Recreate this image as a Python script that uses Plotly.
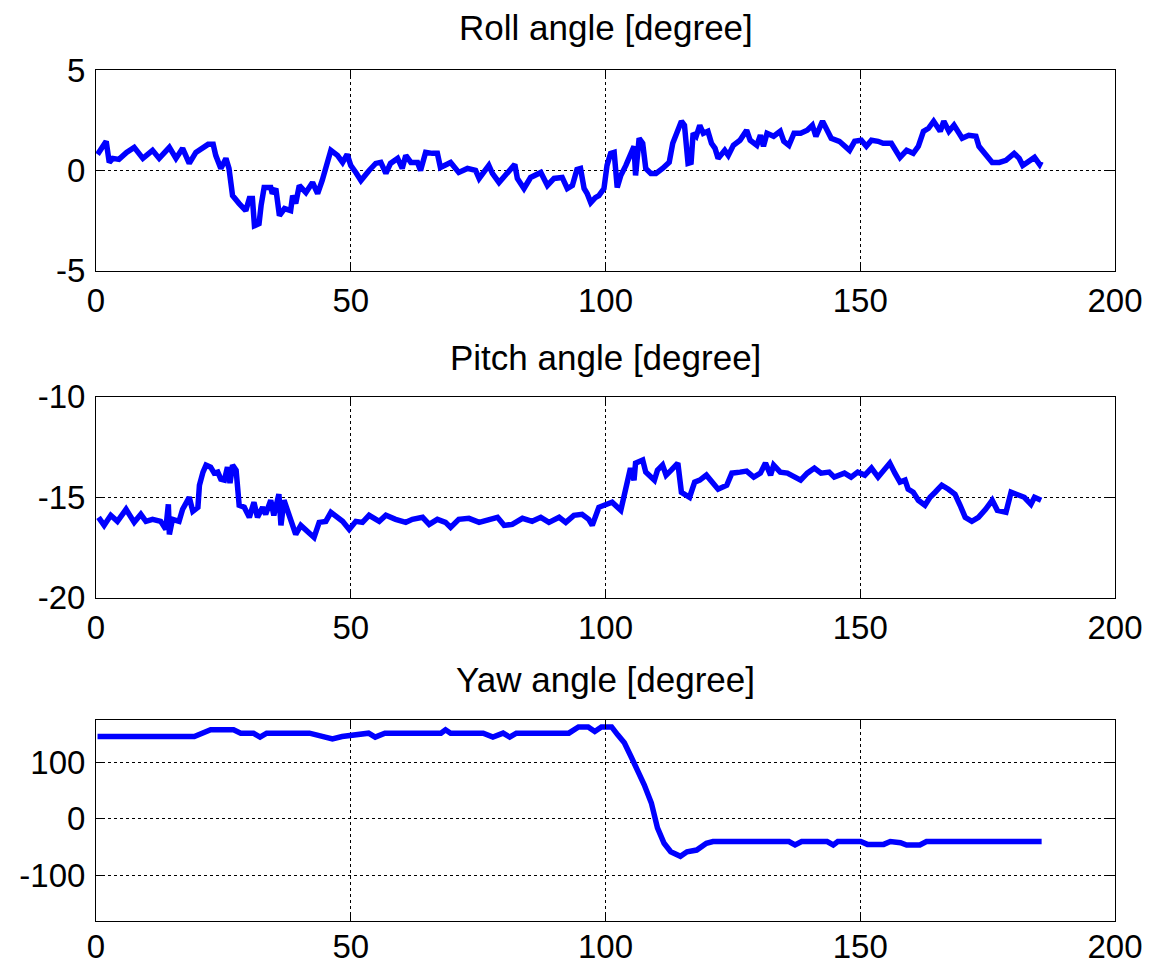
import plotly.graph_objects as go

# ---------------- data ----------------
roll_t = [0.3,1.5,2.0,2.6,3.3,4.5,6.0,7.5,9.2,11.1,12.4,14.4,15.7,17.0,18.3,19.6,21.0,22.0,23.0,23.5,24.5,25.5,26.1,26.8,28.1,29.4,30.1,30.7,31.1,32.0,32.4,33.0,34.3,34.6,35.3,36.0,37.0,38.2,38.6,39.2,39.9,41.2,42.5,43.5,44.4,45.1,46.1,47.4,48.4,49.3,50.0,51.0,52.0,53.6,54.9,55.9,56.9,57.8,59.2,60.1,60.8,61.8,63.1,63.7,64.7,66.0,67.0,67.6,69.6,71.2,72.9,74.5,75.2,77.1,77.8,79.1,80.7,82.2,82.7,84.0,85.3,87.3,88.6,89.9,91.5,92.5,93.5,94.4,95.1,95.8,96.4,97.1,98.0,98.7,99.7,100.3,101.0,101.7,102.3,103.0,104.0,104.6,105.6,105.9,106.6,107.3,107.9,108.9,109.9,111.2,112.5,113.2,114.2,114.9,115.5,115.9,116.2,116.8,117.2,117.8,118.5,119.2,120.1,120.8,121.5,122.1,123.4,124.1,125.1,126.4,127.7,128.4,129.7,130.4,131.0,131.7,133.0,134.3,135.0,136.0,137.0,138.3,139.6,140.6,141.3,142.6,143.3,144.3,145.9,147.9,148.9,150.2,151.2,152.2,153.5,154.5,156.1,157.8,159.1,160.4,161.4,162.4,163.4,164.4,165.7,166.4,167.4,168.4,169.4,170.0,171.3,172.7,173.3,174.6,175.9,177.3,178.6,180.2,181.2,181.9,183.2,184.2,185.2,185.5]
roll_deg = [0.8,1.3,1.45,0.4,0.6,0.55,0.9,1.15,0.6,1.0,0.6,1.15,0.6,1.1,0.35,0.9,1.15,1.3,1.3,0.75,0.1,0.6,0.1,-1.25,-1.65,-2.0,-1.4,-1.4,-2.75,-2.65,-1.75,-0.85,-0.85,-1.15,-0.9,-2.25,-1.9,-2.0,-1.25,-1.65,-0.75,-1.1,-0.6,-1.15,-0.5,0.1,1.0,0.75,0.4,0.8,0.25,-0.1,-0.5,0.0,0.35,0.4,-0.15,0.35,0.6,0.1,0.75,0.4,0.4,0.0,0.9,0.85,0.85,0.15,0.4,-0.1,0.1,0.0,-0.4,0.25,-0.15,-0.6,-0.1,0.3,-0.4,-0.9,-0.35,-0.1,-0.75,-0.4,-0.35,-0.9,-0.75,0.05,0.1,-0.9,-1.15,-1.6,-1.35,-1.25,-0.9,0.25,0.85,0.9,-0.85,-0.25,0.25,0.6,1.2,-0.25,1.6,1.35,0.1,-0.15,-0.15,0.1,0.4,1.35,1.95,2.45,2.25,1.1,0.35,0.4,1.85,1.7,2.25,1.85,1.95,1.35,1.1,0.6,1.0,0.75,1.25,1.5,2.0,1.5,1.25,1.75,1.2,1.85,1.7,1.95,1.45,1.25,1.85,1.85,2.0,2.25,1.7,2.45,2.1,1.6,1.45,1.0,1.45,1.5,1.2,1.5,1.45,1.35,1.35,0.65,1.0,0.85,1.2,1.95,2.1,2.45,1.95,2.45,1.95,2.25,1.85,1.6,1.75,1.7,1.2,0.75,0.4,0.4,0.5,0.85,0.6,0.25,0.5,0.65,0.3,0.45]

pitch_t = [0.5,1.6,2.9,4.2,5.9,7.5,8.8,9.8,11.1,12.7,13.7,14.2,14.4,15.0,16.3,17.0,18.3,19.0,20.0,20.3,21.0,21.6,22.5,23.2,23.9,24.5,25.2,25.8,26.3,26.8,27.5,28.1,29.1,30.1,31.0,31.7,32.7,33.3,34.3,34.9,35.9,36.3,36.9,37.9,38.6,39.2,40.2,41.5,42.8,43.8,45.1,46.1,47.4,48.4,49.7,51.0,52.3,53.6,55.6,56.9,58.8,60.8,62.1,64.1,65.4,67.0,68.6,69.6,71.2,73.2,75.2,77.1,78.8,80.1,81.7,83.7,85.6,87.3,88.9,90.9,92.2,93.8,95.4,96.7,97.4,98.7,100.0,101.3,103.0,103.6,104.3,104.9,105.6,105.9,107.3,107.9,109.6,110.2,111.2,111.9,112.9,114.2,114.9,116.5,117.5,118.5,119.8,120.8,122.1,123.8,124.8,126.4,127.7,129.1,130.4,131.4,132.4,133.0,134.3,135.7,137.0,138.3,139.6,141.0,142.3,143.9,144.9,146.9,148.2,149.5,150.9,152.2,153.5,154.8,155.8,156.8,157.8,158.8,159.4,160.4,161.4,162.7,163.7,164.7,166.0,167.3,168.6,169.6,170.6,171.9,173.2,174.6,175.9,176.9,178.6,179.6,180.9,182.2,183.5,184.2,185.5]
pitch_deg = [-16.0,-16.4,-15.9,-16.2,-15.6,-16.25,-15.85,-16.2,-16.1,-16.2,-16.6,-15.35,-16.85,-16.1,-16.2,-15.6,-15.0,-15.7,-15.5,-14.4,-13.75,-13.4,-13.5,-13.8,-13.75,-14.1,-14.15,-13.5,-14.3,-13.4,-13.65,-15.4,-15.5,-16.0,-15.25,-16.0,-15.5,-15.85,-15.15,-15.9,-14.85,-16.4,-15.15,-15.9,-16.25,-16.85,-16.4,-16.7,-17.0,-16.25,-16.2,-15.75,-16.0,-16.2,-16.6,-16.2,-16.25,-15.9,-16.2,-15.9,-16.1,-16.25,-16.1,-16.0,-16.35,-16.1,-16.25,-16.5,-16.1,-16.05,-16.25,-16.1,-16.0,-16.4,-16.35,-16.05,-16.2,-16.0,-16.25,-16.0,-16.25,-15.9,-15.85,-16.1,-16.4,-15.5,-15.4,-15.25,-15.65,-14.9,-14.15,-13.55,-14.15,-13.3,-13.15,-13.75,-14.15,-13.65,-13.4,-13.9,-13.65,-13.3,-14.75,-15.0,-14.25,-14.15,-13.9,-14.25,-14.6,-14.4,-13.8,-13.75,-13.7,-14.0,-13.8,-13.3,-13.9,-13.4,-13.75,-13.8,-14.0,-14.15,-13.8,-13.55,-13.8,-13.75,-14.0,-13.8,-14.0,-13.75,-13.9,-13.55,-14.0,-13.65,-13.3,-13.8,-14.25,-14.15,-14.6,-14.75,-15.15,-15.4,-15.0,-14.75,-14.4,-14.6,-14.85,-15.4,-16.0,-16.2,-16.0,-15.6,-15.15,-15.65,-15.75,-14.75,-14.85,-15.0,-15.35,-15.0,-15.15]

yaw_t = [0.3,19.3,22.5,27.0,28.4,30.9,32.2,33.5,41.9,43.8,46.4,48.3,50.9,53.5,54.8,56.7,67.7,68.6,69.6,76.0,77.9,79.9,81.2,82.5,92.8,94.7,96.6,97.9,99.2,101.2,102.4,103.7,105.0,106.3,107.6,109.0,110.2,111.5,112.8,114.7,116.0,117.9,119.8,121.1,136.0,137.2,138.5,143.5,144.7,145.6,150.1,151.4,154.6,155.9,157.9,159.1,161.7,163.0,185.6]
yaw_deg = [145,145,157,157,151,151,144,151,151,146,141,145,148,151,144,151,151,157,151,151,144,151,144,151,151,162,162,154,162,162,148,134,110,86,60,28,-16,-43,-58,-66,-58,-55,-43,-40,-40,-46,-40,-40,-46,-40,-40,-45,-45,-40,-42,-46,-46,-40,-40]

titles = ["Roll angle [degree]", "Pitch angle [degree]", "Yaw angle [degree]"]
x_ticks = [0, 50, 100, 150, 200]
roll_ticks = [-5, 0, 5]
pitch_ticks = [-20, -15, -10]
yaw_ticks = [-100, 0, 100]

# ---------------- figure ----------------
OFF = 8                      # page body margin of the html page
W, H = 1154 - OFF, 969 - OFF
FONT = "Liberation Sans, Arial, sans-serif"
FS = 33
FS_T = 35
BLUE = "#0000FF"

ML, MR = 95.5 - OFF, W - (1115 - OFF)
MT, MB = 69.5 - OFF, H - (921 - OFF)
PH = H - MT - MB

# page-pixel boxes (top, bottom) of each panel
boxes = [(69.5, 270.5), (396.5, 597.5), (720.0, 921.0)]
title_y = [26.5, 357.0, 679.0]
x_standoff = [1, 1, -4]


def frac(py):
    return 1 - (py - OFF - MT) / PH


doms = [[frac(b), frac(t)] for t, b in boxes]

fig = go.Figure()
series = [(roll_t, roll_deg), (pitch_t, pitch_deg), (yaw_t, yaw_deg)]
for i, (tx, ty) in enumerate(series):
    sfx = "" if i == 0 else str(i + 1)
    fig.add_trace(go.Scatter(x=tx, y=ty, mode="lines", xaxis="x" + sfx, yaxis="y" + sfx,
                             line=dict(color=BLUE, width=5.5), showlegend=False,
                             hoverinfo="skip"))

yranges = [[-5, 5], [-20, -10], [-180, 174]]
yticks = [roll_ticks, pitch_ticks, yaw_ticks]

common = dict(showline=True, linecolor="black", linewidth=1, mirror="ticks",
              ticks="inside", ticklen=9, tickcolor="black", tickwidth=1,
              showgrid=True, gridcolor="black", gridwidth=1, griddash="dot",
              zeroline=False, automargin=False,
              tickfont=dict(family=FONT, size=FS, color="black"))

layout = dict(width=W, height=H, paper_bgcolor="white", plot_bgcolor="white",
              margin=dict(l=ML, r=MR, t=MT, b=MB, pad=0), showlegend=False,
              font=dict(family=FONT, size=FS, color="black"))
for i in range(3):
    sfx = "" if i == 0 else str(i + 1)
    layout["xaxis" + sfx] = dict(common, domain=[0, 1], anchor="y" + sfx, range=[0, 200],
                                 tickvals=x_ticks, ticktext=[str(v) for v in x_ticks],
                                 ticklabelstandoff=x_standoff[i])
    layout["yaxis" + sfx] = dict(common, domain=doms[i], anchor="x" + sfx, range=yranges[i],
                                 tickvals=yticks[i], ticktext=[str(v) for v in yticks[i]],
                                 ticklabelstandoff=3)

annotations = []
for i in range(3):
    annotations.append(dict(text=titles[i], xref="paper", yref="paper", x=0.5,
                            y=frac(title_y[i]), xanchor="center", yanchor="middle",
                            showarrow=False,
                            font=dict(family=FONT, size=FS_T, color="black")))
layout["annotations"] = annotations
fig.update_layout(**layout)

fig.write_html("out.html")
